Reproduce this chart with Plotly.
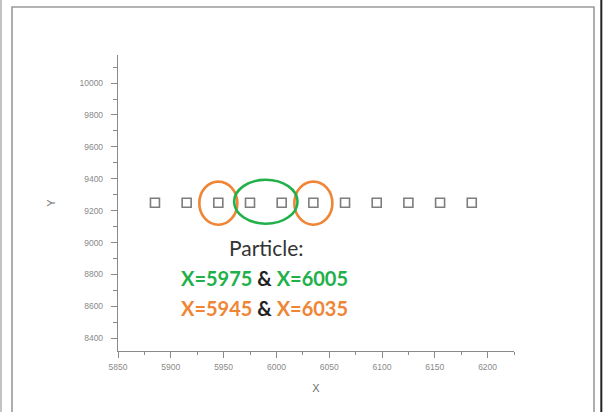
import plotly.graph_objects as go

# ---- data ----
particle_x = [5885, 5915, 5945, 5975, 6005, 6035, 6065, 6095, 6125, 6155, 6185]
particle_y = [9250, 9250, 9250, 9250, 9250, 9250, 9250, 9250, 9250, 9250, 9250]
x_ticks = [5850, 5900, 5950, 6000, 6050, 6100, 6150, 6200]
y_ticks = [8400, 8600, 8800, 9000, 9200, 9400, 9600, 9800, 10000]
green_pair = [5975, 6005]
orange_pair = [5945, 6035]

GREEN = "#22b04b"
ORANGE = "#ef8535"
AXIS = "#8a8a8a"

fig = go.Figure()
fig.add_trace(go.Scatter(
    x=particle_x, y=particle_y, mode="markers",
    marker=dict(symbol="square-open", size=9, color="#7d7d7d", line=dict(width=1.6)),
    showlegend=False, hoverinfo="x+y"))

# highlight ellipses (data coordinates)
for xc in orange_pair:
    fig.add_shape(type="circle", xref="x", yref="y",
                  x0=xc - 18, x1=xc + 18, y0=9112, y1=9382,
                  line=dict(color=ORANGE, width=2.6))
fig.add_shape(type="circle", xref="x", yref="y",
              x0=green_pair[0] - 15, x1=green_pair[1] + 15, y0=9118, y1=9394,
              line=dict(color=GREEN, width=2.6))

# frame decorations (page border)
fig.add_shape(type="rect", xref="paper", yref="paper",
              x0=-0.2677, x1=1.202, y0=-0.25, y1=1.1622,
              line=dict(color="#9a9a9a", width=1.6), layer="below")
fig.add_shape(type="line", xref="paper", yref="paper",
              x0=-0.2955, x1=-0.2955, y0=-0.25, y1=1.2,
              line=dict(color="#b0b0b0", width=1.5), layer="below")
fig.add_shape(type="line", xref="paper", yref="paper",
              x0=1.2205, x1=1.2205, y0=-0.25, y1=1.2,
              line=dict(color="#222222", width=2), layer="below")

# annotation text
fnt = "Lato, 'Open Sans', sans-serif"
fig.add_annotation(x=5991, y=8966, xref="x", yref="y", showarrow=False,
                   text="Particle:", font=dict(family=fnt, size=21, color="#333333"))
fig.add_annotation(x=5989, y=8777, xref="x", yref="y", showarrow=False,
                   text=f"<b><span style='color:{GREEN}'>X={green_pair[0]}</span> &amp; "
                        f"<span style='color:{GREEN}'>X={green_pair[1]}</span></b>",
                   font=dict(family=fnt, size=20, color="#222222"))
fig.add_annotation(x=5989, y=8589, xref="x", yref="y", showarrow=False,
                   text=f"<b><span style='color:{ORANGE}'>X={orange_pair[0]}</span> &amp; "
                        f"<span style='color:{ORANGE}'>X={orange_pair[1]}</span></b>",
                   font=dict(family=fnt, size=20, color="#222222"))

tickfont = dict(family="Liberation Sans, Arial, sans-serif", size=8.5, color="#8a8a8a")
fig.update_layout(
    template="none",
    width=603, height=412,
    margin=dict(l=118, r=89, t=55, b=61, pad=0),
    paper_bgcolor="white", plot_bgcolor="white",
    font=dict(family="Liberation Sans, Arial, sans-serif", color="#6e6e6e"),
    xaxis=dict(range=[5850, 6225], tickvals=x_ticks, ticktext=[str(v) for v in x_ticks],
               showgrid=False, zeroline=False, showline=True, linecolor=AXIS, linewidth=1.4,
               ticks="outside", ticklen=6, tickcolor=AXIS, tickwidth=1.2,
               minor=dict(dtick=25, tick0=5850, ticks="outside", ticklen=3, tickcolor=AXIS, tickwidth=1,
                          showgrid=False),
               tickfont=tickfont, ticklabelstandoff=2,
               title=dict(text="X", font=dict(size=11, color="#6e6e6e"), standoff=12)),
    yaxis=dict(range=[8320, 10176], tickvals=y_ticks, ticktext=[str(v) for v in y_ticks],
               showgrid=False, zeroline=False, showline=True, linecolor=AXIS, linewidth=1.4,
               ticks="outside", ticklen=6, tickcolor=AXIS, tickwidth=1.2,
               minor=dict(dtick=100, tick0=8400, ticks="outside", ticklen=4, tickcolor=AXIS, tickwidth=1,
                          showgrid=False),
               tickfont=tickfont, ticklabelstandoff=6,
               title=dict(text="Y", font=dict(size=11, color="#6e6e6e"), standoff=21)),
)

fig.write_html("out.html", config={"displayModeBar": False},
               post_script="document.body.style.margin='0';document.body.style.overflow='hidden';")
